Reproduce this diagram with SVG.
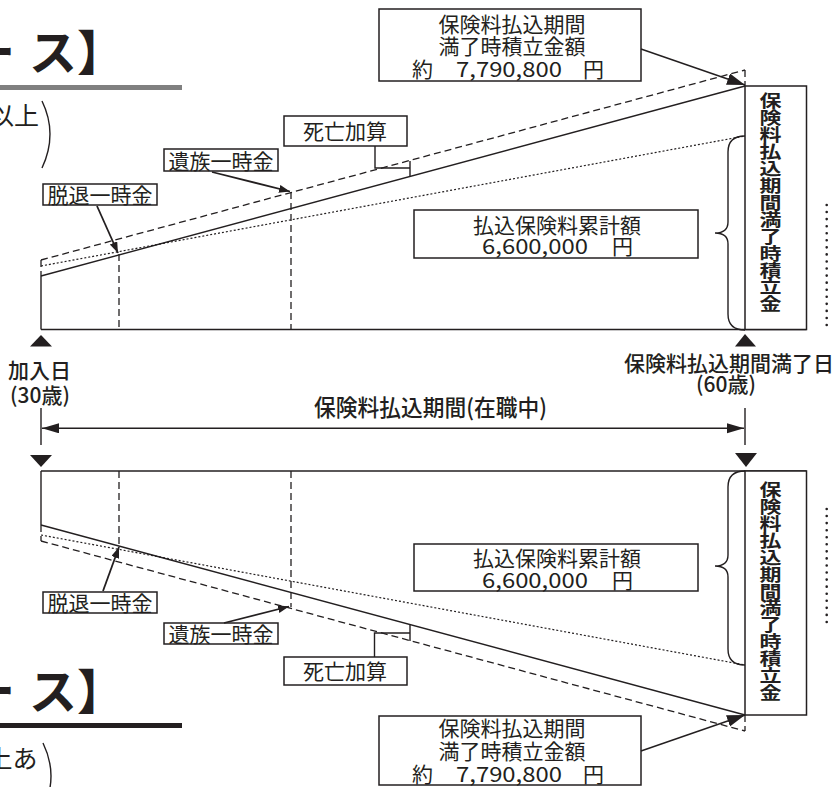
<svg xmlns="http://www.w3.org/2000/svg" width="834" height="787" viewBox="0 0 834 787">
<defs>
<style>
text{font-family:"Noto Sans CJK JP","Noto Sans",sans-serif;fill:#231f20}
.t21{font-size:21px}
.med{font-weight:500}
.mid{text-anchor:middle}
.box{fill:#fff;stroke:#231f20;stroke-width:1.5}
.ln{fill:none;stroke:#231f20;stroke-width:1.4}
.arr{fill:none;stroke:#231f20;stroke-width:1.8}
.dash{fill:none;stroke:#231f20;stroke-width:1.3;stroke-dasharray:7 4}
.dot{fill:none;stroke:#231f20;stroke-width:1.2;stroke-dasharray:2 2}
.dots{fill:none;stroke:#231f20;stroke-width:2.6;stroke-linecap:round;stroke-dasharray:0 7.06}
.vt{font-size:20px;font-weight:700;writing-mode:vertical-rl;letter-spacing:-0.1px}
.tri{fill:#231f20}
</style>
<marker id="ah" markerUnits="userSpaceOnUse" markerWidth="12" markerHeight="10" refX="11" refY="4" orient="auto"><path d="M0,0 L11,4 L0,8 Z" fill="#231f20"/></marker>
<marker id="ahL" markerUnits="userSpaceOnUse" markerWidth="19" markerHeight="13" refX="18" refY="6" orient="auto"><path d="M0,0 L18,6 L0,12 Z" fill="#231f20"/></marker>
<marker id="ahS" markerUnits="userSpaceOnUse" markerWidth="18" markerHeight="11" refX="17" refY="5" orient="auto-start-reverse"><path d="M0,0 L17,5 L0,10 Z" fill="#231f20"/></marker>
</defs>
<rect width="834" height="787" fill="#fff"/>

<g id="title-top">
<text font-size="48" font-weight="700" y="70"><tspan x="-33">ー</tspan><tspan x="29">ス</tspan><tspan x="77">】</tspan></text>
<rect x="0" y="85" width="182" height="5" fill="#808080"/>
<text font-size="25" x="-11" y="125">以上</text>
<path class="ln" d="M42,101 Q58,134 42,168"/>
</g>

<g id="title-bottom">
<text font-size="48" font-weight="700" y="709"><tspan x="-33">ー</tspan><tspan x="29">ス</tspan><tspan x="77">】</tspan></text>
<rect x="0" y="723" width="182" height="5" fill="#231f20"/>
<text font-size="25" x="-12.5" y="768">上あ</text>
<path class="ln" d="M43,743 Q59,776 43,809"/>
</g>

<g id="chart-top">
<line class="ln" x1="41" y1="329.5" x2="806.5" y2="329.5" stroke-width="1.8"/>
<line class="ln" x1="41" y1="276" x2="41" y2="329.5"/>
<line class="dash" x1="41" y1="260" x2="41" y2="276" stroke-dasharray="3 2"/>
<line class="ln" x1="41" y1="276" x2="745" y2="86"/>
<line class="dash" x1="41" y1="260" x2="745" y2="70"/>
<line class="dot" x1="41" y1="266" x2="745" y2="136"/>
<line class="dash" x1="745" y1="70" x2="745" y2="86" stroke-dasharray="4 2"/>
<line class="dash" x1="119" y1="254" x2="119" y2="329.5"/>
<line class="dash" x1="291" y1="192" x2="291" y2="329.5"/>
<path class="ln" d="M745,136 Q728,136 728,152 L728,222 Q728,233 715,233 Q728,233 728,244 L728,314 Q728,330 745,330"/>
<line class="dots" x1="826.7" y1="205" x2="826.7" y2="326"/>
</g>

<g id="chart-bottom">
<line class="ln" x1="41" y1="471" x2="806.5" y2="471" stroke="#555" stroke-width="1.8"/>
<line class="ln" x1="41" y1="471" x2="41" y2="525"/>
<line class="dash" x1="41" y1="525" x2="41" y2="541" stroke-dasharray="3 2"/>
<line class="ln" x1="41" y1="525" x2="745" y2="715"/>
<line class="dash" x1="41" y1="541" x2="745" y2="731"/>
<line class="dot" x1="41" y1="535" x2="745" y2="665"/>
<line class="dash" x1="745" y1="715" x2="745" y2="731" stroke-dasharray="4 2"/>
<line class="dash" x1="119" y1="471" x2="119" y2="546"/>
<line class="dash" x1="291" y1="471" x2="291" y2="607"/>
<path class="ln" d="M745,471 Q728,471 728,487 L728,555 Q728,566 715,566 Q728,566 728,577 L728,649 Q728,665 745,665"/>
<line class="dots" x1="826.7" y1="509" x2="826.7" y2="628"/>
</g>

<g id="node-total-top">
<rect class="box" x="379" y="9" width="262" height="72"/>
<text class="t21 mid" x="512" y="32">保険料払込期間</text>
<text class="t21 mid" x="512" y="54">満了時積立金額</text>
<text class="t21" x="412" y="77">約</text>
<text class="t21" x="456" y="77" textLength="106" lengthAdjust="spacingAndGlyphs">7,790,800</text>
<text class="t21" x="583" y="77">円</text>
</g>

<g id="node-total-bottom">
<rect class="box" x="379" y="716" width="262" height="69"/>
<text class="t21 mid" x="512" y="736">保険料払込期間</text>
<text class="t21 mid" x="512" y="759">満了時積立金額</text>
<text class="t21" x="412" y="782">約</text>
<text class="t21" x="456" y="782" textLength="106" lengthAdjust="spacingAndGlyphs">7,790,800</text>
<text class="t21" x="583" y="782">円</text>
</g>

<g id="node-premium-top">
<rect class="box" x="414" y="210" width="284" height="48"/>
<text class="t21 mid" x="557" y="233">払込保険料累計額</text>
<text class="t21" x="482" y="254" textLength="106" lengthAdjust="spacingAndGlyphs">6,600,000</text>
<text class="t21" x="612" y="254">円</text>
</g>

<g id="node-premium-bottom">
<rect class="box" x="414" y="544" width="284" height="47"/>
<text class="t21 mid" x="557" y="566">払込保険料累計額</text>
<text class="t21" x="482" y="588" textLength="106" lengthAdjust="spacingAndGlyphs">6,600,000</text>
<text class="t21" x="612" y="588">円</text>
</g>

<g id="node-death-top">
<rect class="box" x="284" y="116" width="123" height="30"/>
<text class="t21 mid" x="345" y="138.5">死亡加算</text>
</g>

<g id="node-death-bottom">
<rect class="box" x="284" y="657" width="123" height="28"/>
<text class="t21 mid" x="345" y="678.5">死亡加算</text>
</g>

<g id="node-survivor-top">
<rect class="box" x="164" y="149" width="114" height="22"/>
<text class="t21 mid" x="221" y="168.5">遺族一時金</text>
</g>

<g id="node-survivor-bottom">
<rect class="box" x="164" y="623" width="114" height="21"/>
<text class="t21 mid" x="221" y="641.5">遺族一時金</text>
</g>

<g id="node-withdraw-top">
<rect class="box" x="43" y="184" width="114" height="21"/>
<text class="t21 mid" x="100" y="202.5">脱退一時金</text>
</g>

<g id="node-withdraw-bottom">
<rect class="box" x="43" y="592" width="114" height="21"/>
<text class="t21 mid" x="100" y="610.5">脱退一時金</text>
</g>

<g id="node-maturity-top">
<rect class="box" x="745" y="86" width="61.5" height="243.5"/>
<text class="vt" transform="translate(770.5 92.5) scale(1.1 0.85)" x="0" y="0">保険料払込期間満了時積立金</text>
</g>

<g id="node-maturity-bottom">
<rect class="box" x="745" y="471" width="61.5" height="244"/>
<text class="vt" transform="translate(770.5 481.2) scale(1.1 0.85)" x="0" y="0">保険料払込期間満了時積立金</text>
</g>

<g id="node-start">
<polygon class="tri" points="41,335 30,346.5 52,346.5"/>
<text class="t21 med mid" x="39.5" y="378">加入日</text>
<text class="t21 med mid" x="40" y="403">(30歳)</text>
<polygon class="tri" points="30,455 52,455 41,467"/>
</g>

<g id="node-end">
<polygon class="tri" points="745,334 735,346.5 756,346.5"/>
<text class="t21 med" x="624" y="371">保険料払込期間満了日</text>
<text class="t21 med mid" x="726" y="392">(60歳)</text>
<polygon class="tri" points="735,453 757,453 746,467"/>
</g>

<g id="node-period">
<text class="med" font-size="23" x="314" y="416" textLength="233" lengthAdjust="spacingAndGlyphs">保険料払込期間(在職中)</text>
</g>

<g id="connectors">
<line class="ln" x1="641" y1="49" x2="745" y2="85" marker-end="url(#ahL)"/>
<line class="ln" x1="641" y1="751" x2="745" y2="715" marker-end="url(#ahL)"/>
<line class="arr" x1="212" y1="172" x2="290" y2="191.5" marker-end="url(#ah)"/>
<line class="arr" x1="97" y1="206" x2="118" y2="253" marker-end="url(#ah)"/>
<line class="arr" x1="103" y1="591" x2="119" y2="547" marker-end="url(#ah)"/>
<line class="arr" x1="224" y1="623" x2="289" y2="606.5" marker-end="url(#ah)"/>
<polyline class="ln" points="375,146 375,168 410,168"/>
<line class="ln" x1="410" y1="161" x2="410" y2="176"/>
<polyline class="ln" points="374.5,657 374.5,633 410,633"/>
<line class="ln" x1="410" y1="625" x2="410" y2="641"/>
<line class="ln" x1="41" y1="408" x2="41" y2="445"/>
<line class="ln" x1="745" y1="408" x2="745" y2="445"/>
<line class="ln" x1="42" y1="428.3" x2="744" y2="428.3" marker-start="url(#ahS)" marker-end="url(#ahS)"/>
</g>
</svg>
